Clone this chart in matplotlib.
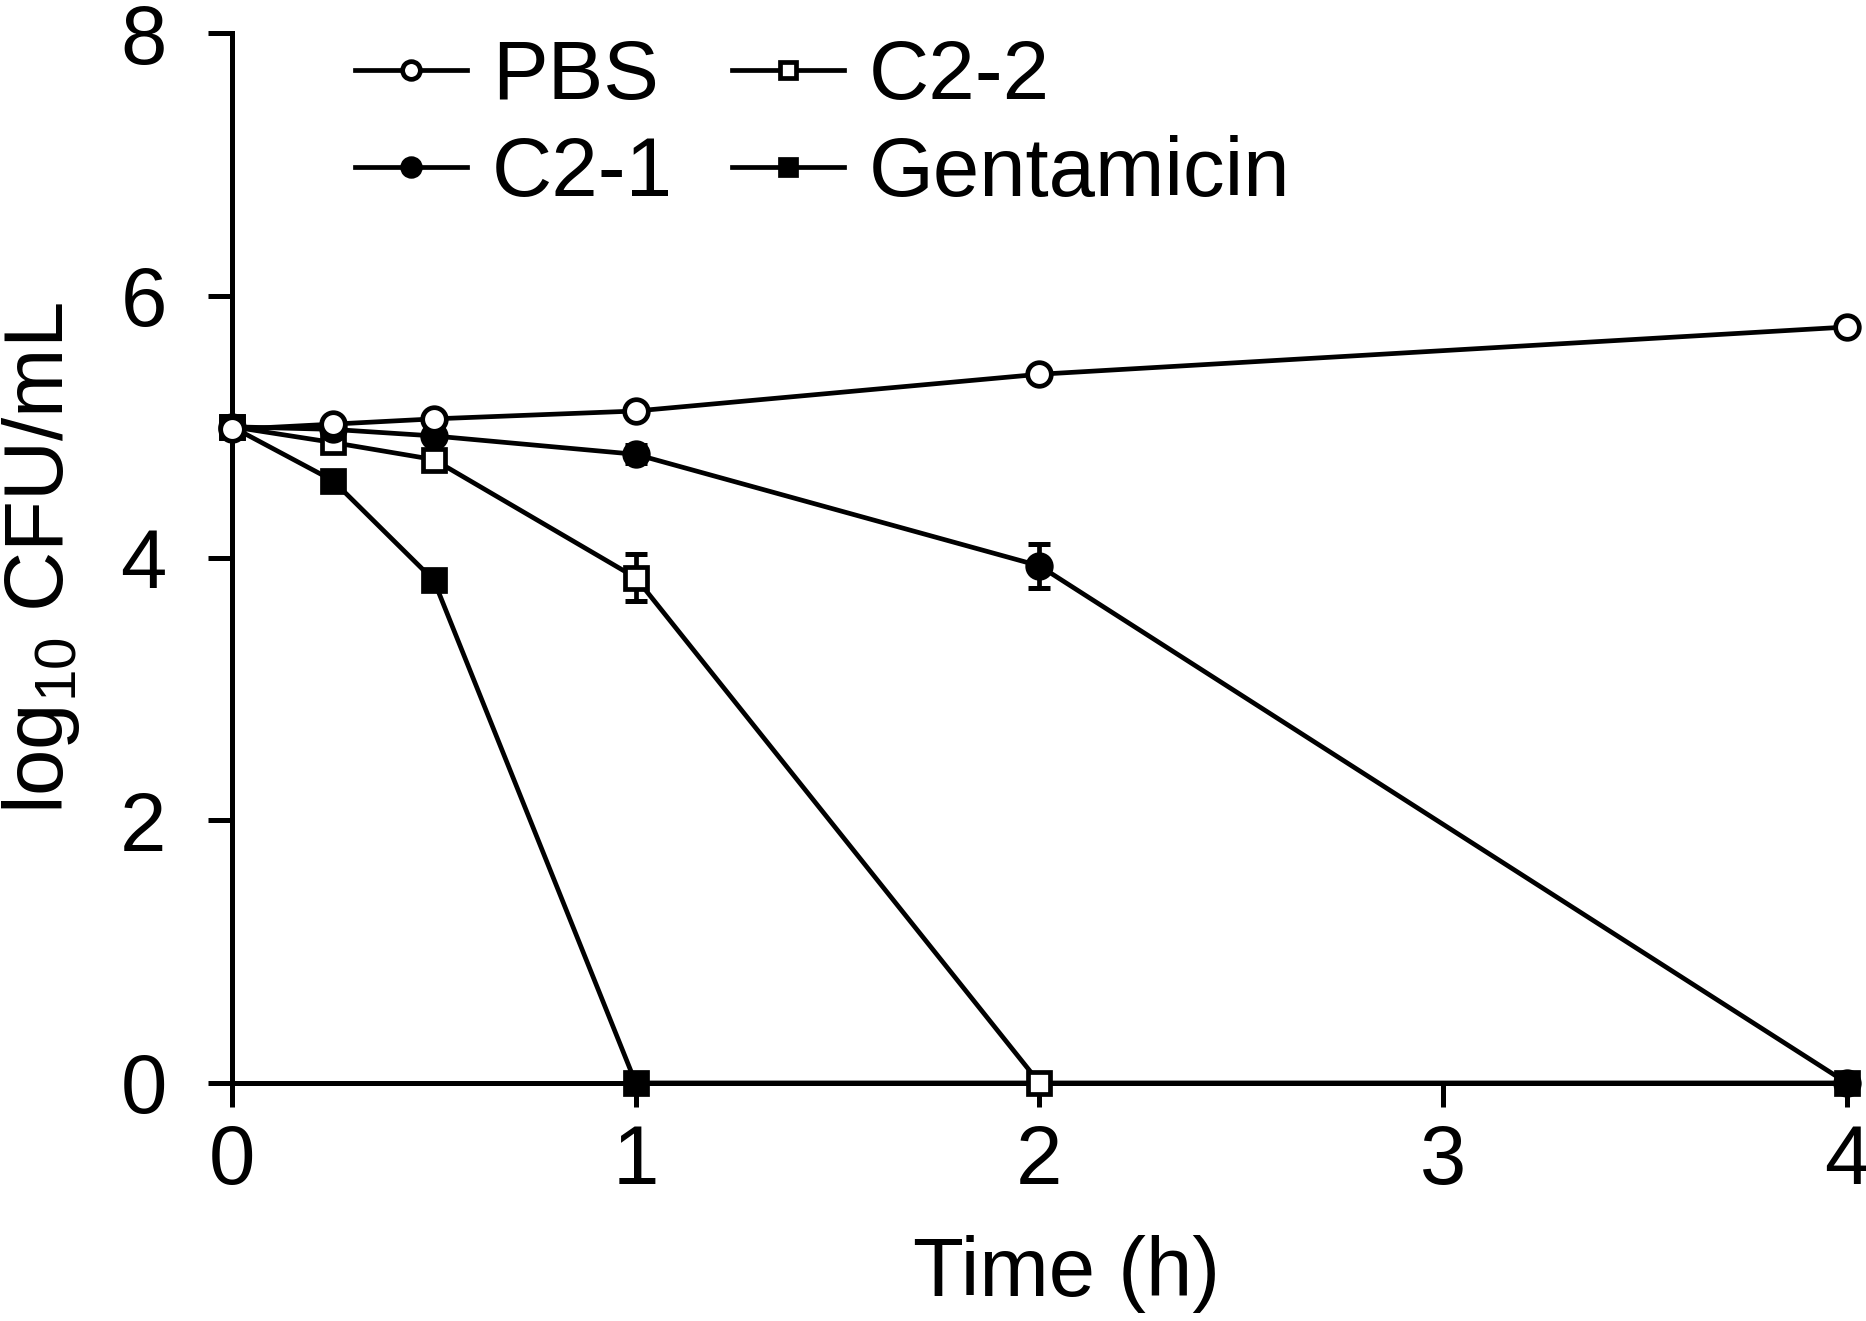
import matplotlib
matplotlib.use("Agg")
import matplotlib.pyplot as plt
import numpy as np

plt.rcParams["font.family"] = ["Liberation Sans", "DejaVu Sans"]
plt.rcParams["mathtext.fontset"] = "custom"
plt.rcParams["mathtext.rm"] = "Liberation Sans"
plt.rcParams["mathtext.default"] = "regular"

# values
time_pbs = [0, 0.25, 0.5, 1, 2, 4]
pbs = [4.98, 5.02, 5.06, 5.12, 5.40, 5.76]

time_c21 = [0, 0.25, 0.5, 1, 2, 4]
c21 = [5.0, 4.98, 4.93, 4.79, 3.94, 0]
c21_err = [0, 0, 0, 0.07, 0.17, 0]

time_c22 = [0, 0.25, 0.5, 1, 2]
c22 = [5.0, 4.88, 4.75, 3.85, 0]
c22_err = [0, 0, 0, 0.18, 0]

time_gen = [0, 0.25, 0.5, 1, 4]
gen = [5.0, 4.59, 3.83, 0, 0]

x_ticks = [0, 1, 2, 3, 4]
y_ticks = [0, 2, 4, 6, 8]

FS = 60
LW = 3.4

fig = plt.figure(figsize=(18.66, 13.21), dpi=100)
ax = fig.add_axes([0.1243, 0.1802, 0.8655, 0.7948])

series = [
    ("Gentamicin", time_gen, gen, None, "s", "black", 3),
    ("C2-2", time_c22, c22, c22_err, "s", "white", 4),
    ("C2-1", time_c21, c21, c21_err, "o", "black", 5),
    ("PBS", time_pbs, pbs, None, "o", "white", 6),
]
handles = {}
for name, t, y, err, mk, fc, z in series:
    ms = 16 if mk == "s" else 17
    if err is not None:
        idx = [i for i, e in enumerate(err) if e > 0]
        ax.errorbar([t[i] for i in idx], [y[i] for i in idx],
                    yerr=[err[i] for i in idx], fmt="none", ecolor="black",
                    elinewidth=LW, capsize=8, capthick=3.6, zorder=z - 0.5,
                    clip_on=False)
    (ln,) = ax.plot(t, y, color="black", linewidth=LW, marker=mk, markersize=ms,
                    markerfacecolor=fc, markeredgecolor="black",
                    markeredgewidth=LW, zorder=z, clip_on=False, label=name)
    handles[name] = ln

ax.set_xlim(0, 4)
ax.set_ylim(0, 8)
ax.set_xticks(x_ticks)
ax.set_yticks(y_ticks)
ax.spines["top"].set_visible(False)
ax.spines["right"].set_visible(False)
for s in ("left", "bottom"):
    ax.spines[s].set_linewidth(3.6)
ax.tick_params(axis="both", direction="out", length=17, width=3.6,
               labelsize=FS)
ax.tick_params(axis="y", pad=30)
ax.tick_params(axis="x", pad=12)

ax.set_xlabel("Time (h)", fontsize=FS)
ax.xaxis.set_label_coords(0.517, -0.145)
ax.set_ylabel("log$_{10}$ CFU/mL", fontsize=FS)
ax.yaxis.set_label_coords(-0.093, 0.5)

order = ["PBS", "C2-1", "C2-2", "Gentamicin"]
ax.legend([handles[k] for k in order], order, ncol=2, loc="upper left",
          bbox_to_anchor=(0.076, 0.995), frameon=False, fontsize=FS,
          handlelength=1.35, handletextpad=0.3, columnspacing=0.7,
          labelspacing=0.23, borderpad=0, borderaxespad=0, markerscale=0.75)

fig.savefig("out.png", dpi=100, facecolor="white")
